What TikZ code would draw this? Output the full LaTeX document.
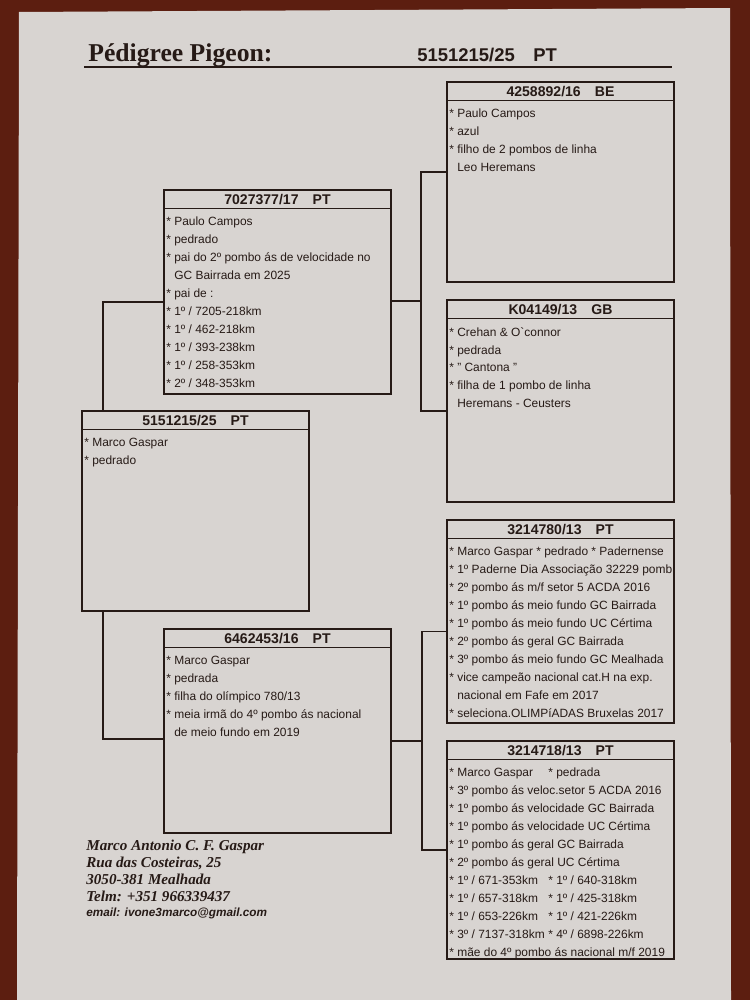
\documentclass[tikz,border=0pt]{standalone}
\usepackage{fontspec}
\setmainfont{Liberation Serif}
\setsansfont{Liberation Sans}
\usetikzlibrary{positioning,calc}
\definecolor{paper}{RGB}{216,212,209}
\definecolor{wood}{RGB}{92,30,16}
\definecolor{ink}{RGB}{38,26,22}

\begin{document}
\begin{tikzpicture}[
    x=0.2mm, y=-0.2mm,
    font=\sffamily,
    pbox/.style={
        rectangle,
        draw=ink,
        line width=1.1pt,
        anchor=north west,
        minimum width=45.4mm,
        inner sep=0pt
    },
    phead/.style={
        rectangle,
        draw=ink,
        line width=1.1pt,
        anchor=north,
        minimum width=45.4mm,
        minimum height=3.7mm,
        inner sep=0pt,
        text=ink,
        font=\sffamily\bfseries\fontsize{8}{9}\selectfont
    },
    pbody/.style={
        anchor=north west,
        align=left,
        inner xsep=0.6mm,
        inner ysep=1.5mm,
        text=ink,
        font=\sffamily\fontsize{6.8}{10.2}\selectfont
    },
    link/.style={draw=ink, line width=0.7pt},
    addr/.style={anchor=north west, align=left, inner sep=0pt, text=ink,
        font=\rmfamily\bfseries\itshape\fontsize{8.6}{8.6}\selectfont}
]
\useasboundingbox (0,0) rectangle (750,1000);

% Photo ground and sheet
\fill[wood] (0,0) rectangle (750,1000);
\fill[paper] (19,12) -- (730,8) -- (731,1000) -- (17,1000) -- cycle;

% Title
\node[anchor=base west, inner sep=0pt, text=ink,
    font=\rmfamily\bfseries\fontsize{14.6}{16}\selectfont] (title) at (88,61)
    {Pédigree Pigeon:};
\node[anchor=base west, inner sep=0pt, text=ink,
    font=\sffamily\bfseries\fontsize{10.5}{12}\selectfont] (ring) at (417,61)
    {5151215/25\quad PT};
\draw[ink, line width=1.2pt] (84,67) -- (672,67);

% Pigeon
\node[pbox, minimum height=40mm] (subj) at (81,410) {};
\node[phead] (subjhead) at (subj.north) {5151215/25\quad PT};
\node[pbody] (subjbody) at (subjhead.south west)
    {* Marco Gaspar\\
     * pedrado};

% Sire
\node[pbox, minimum height=40.8mm] (sire) at (163,189) {};
\node[phead] (sirehead) at (sire.north) {7027377/17\quad PT};
\node[pbody] (sirebody) at (sirehead.south west)
    {* Paulo Campos\\
     * pedrado\\
     * pai do 2º pombo ás de velocidade no\\
     \hphantom{* }GC Bairrada em 2025\\
     * pai de :\\
     * 1º / 7205-218km\\
     * 1º / 462-218km\\
     * 1º / 393-238km\\
     * 1º / 258-353km\\
     * 2º / 348-353km};

% Dam
\node[pbox, minimum height=40.8mm] (dam) at (163,628) {};
\node[phead] (damhead) at (dam.north) {6462453/16\quad PT};
\node[pbody] (dambody) at (damhead.south west)
    {* Marco Gaspar\\
     * pedrada\\
     * filha do olímpico 780/13\\
     * meia irmã do 4º pombo ás nacional\\
     \hphantom{* }de meio fundo em 2019};

% Sire's parents
\node[pbox, minimum height=40mm] (ss) at (446,81) {};
\node[phead] (sshead) at (ss.north) {4258892/16\quad BE};
\node[pbody] (ssbody) at (sshead.south west)
    {* Paulo Campos\\
     * azul\\
     * filho de 2 pombos de linha\\
     \hphantom{* }Leo Heremans};

\node[pbox, minimum height=40.4mm] (sd) at (446,299) {};
\node[phead] (sdhead) at (sd.north) {K04149/13\quad GB};
\node[pbody] (sdbody) at (sdhead.south west)
    {* Crehan \& O\textasciigrave connor\\
     * pedrada\\
     * " Cantona "\\
     * filha de 1 pombo de linha\\
     \hphantom{* }Heremans - Ceusters};

% Dam's parents
\node[pbox, minimum height=40.6mm] (ds) at (446,519) {};
\node[phead] (dshead) at (ds.north) {3214780/13\quad PT};
\node[pbody] (dsbody) at (dshead.south west)
    {* Marco Gaspar * pedrado * Padernense\\
     * 1º Paderne Dia Associação 32229 pomb\\
     * 2º pombo ás m/f setor 5 ACDA 2016\\
     * 1º pombo ás meio fundo GC Bairrada\\
     * 1º pombo ás meio fundo UC Cértima\\
     * 2º pombo ás geral GC Bairrada\\
     * 3º pombo ás meio fundo GC Mealhada\\
     * vice campeão nacional cat.H na exp.\\
     \hphantom{* }nacional em Fafe em 2017\\
     * seleciona.OLIMPíADAS Bruxelas 2017};

\node[pbox, minimum height=43.6mm] (dd) at (446,740) {};
\node[phead] (ddhead) at (dd.north) {3214718/13\quad PT};
\node[pbody] (ddbody) at (ddhead.south west)
    {\makebox[19.8mm][l]{* Marco Gaspar}* pedrada\\
     * 3º pombo ás veloc.setor 5 ACDA 2016\\
     * 1º pombo ás velocidade GC Bairrada\\
     * 1º pombo ás velocidade UC Cértima\\
     * 1º pombo ás geral GC Bairrada\\
     * 2º pombo ás geral UC Cértima\\
     \makebox[19.8mm][l]{* 1º / 671-353km}* 1º / 640-318km\\
     \makebox[19.8mm][l]{* 1º / 657-318km}* 1º / 425-318km\\
     \makebox[19.8mm][l]{* 1º / 653-226km}* 1º / 421-226km\\
     \makebox[19.8mm][l]{* 3º / 7137-318km}* 4º / 6898-226km\\
     * mãe do 4º pombo ás nacional m/f 2019};

% Connectors
\draw[link] ([xshift=4.4mm]subj.north west) |- ([yshift=-2mm]sire.west);
\draw[link] ([xshift=4.4mm]subj.south west) |- ([yshift=-1.6mm]dam.west);

\draw[link] ([yshift=-1.8mm]sire.east) -- ++(29,0) coordinate (sirejoin);
\draw[link] ([yshift=2mm]ss.west) -| (sirejoin) |- ([yshift=-2mm]sd.west);

\draw[link] ([yshift=-2mm]dam.east) -- ++(30,0) coordinate (damjoin);
\draw[link] ([yshift=-2mm]ds.west) -| (damjoin) |- (dd.west);

% Breeder
\node[addr] (breeder) at (86,840)
    {Marco Antonio C. F. Gaspar\\[1.1pt]
     Rua das Costeiras, 25\\[1.1pt]
     3050-381 Mealhada\\[1.1pt]
     Telm: +351 966339437};
\node[inner sep=0pt, text=ink,
    font=\sffamily\bfseries\itshape\fontsize{6.7}{8}\selectfont,
    below=1mm of breeder.south west, anchor=north west] (email)
    {email: ivone3marco@gmail.com};

\end{tikzpicture}
\end{document}
